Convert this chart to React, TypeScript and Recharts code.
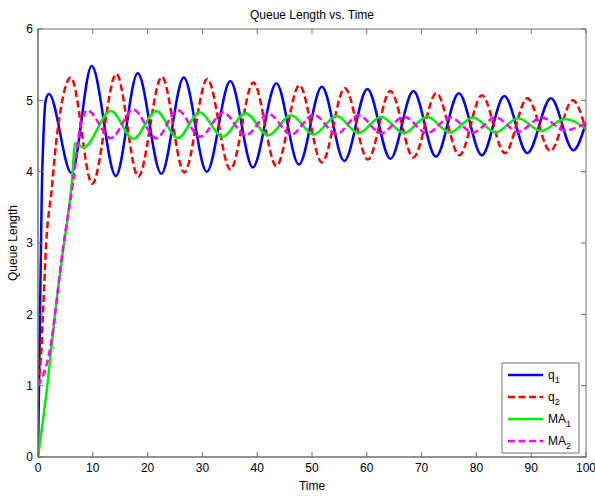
import React from 'react';
import { LineChart, Line, XAxis, YAxis } from 'recharts';

const FONT = '"Liberation Sans", Arial, Helvetica, sans-serif';
const AXIS_COLOR = '#6e6e6e';

// q1 (blue, solid)
const q1Time = [0, 0.3, 0.55, 0.7, 1.0, 1.4, 2.0, 6.1, 9.8, 14.2, 18.2, 22.5, 26.6, 30.8, 35.1, 39.2, 43.5, 47.6, 51.8, 55.9, 60.1, 64.3, 68.5, 72.6, 76.8, 81.0, 85.1, 89.3, 93.6, 97.7, 100];
const q1Value = [0, 1.6, 3.0, 3.75, 4.5, 5.0, 5.09, 3.98, 5.48, 3.94, 5.38, 3.97, 5.32, 4.0, 5.27, 4.06, 5.24, 4.1, 5.19, 4.15, 5.16, 4.18, 5.13, 4.21, 5.1, 4.23, 5.06, 4.26, 5.03, 4.3, 4.69];

// q2 (red, dashed)
const q2Time = [0, 0.6, 0.9, 1.5, 2.5, 3.3, 4.2, 6.0, 9.9, 14.3, 18.3, 22.6, 26.7, 30.9, 35.1, 39.3, 43.5, 47.7, 51.8, 56.0, 60.2, 64.3, 68.5, 72.7, 76.9, 81.0, 85.2, 89.3, 93.5, 97.6, 100];
const q2Value = [1.0, 1.5, 2.0, 3.0, 3.75, 4.4, 4.9, 5.32, 3.83, 5.37, 3.93, 5.33, 3.99, 5.3, 4.03, 5.25, 4.08, 5.21, 4.13, 5.17, 4.17, 5.13, 4.2, 5.1, 4.23, 5.07, 4.26, 5.03, 4.29, 5.0, 4.58];

// MA1 (green, solid)
const ma1Time = [0, 1.7, 3.1, 4.5, 6.15, 6.8, 8.3, 13.3, 17.4, 21.6, 25.5, 29.5, 33.7, 37.9, 42.0, 46.2, 50.3, 54.5, 58.5, 62.6, 66.8, 71.0, 75.2, 79.4, 83.5, 87.6, 91.8, 96.1, 100];
const ma1Value = [0, 1.0, 2.0, 2.85, 3.83, 4.4, 4.34, 4.85, 4.46, 4.85, 4.47, 4.83, 4.49, 4.82, 4.51, 4.79, 4.52, 4.78, 4.54, 4.77, 4.54, 4.77, 4.55, 4.76, 4.55, 4.75, 4.57, 4.74, 4.6];

// MA2 (magenta, dashed)
const ma2Time = [0, 2.2, 4.6, 6.45, 7.7, 9.0, 13.3, 17.4, 21.6, 25.5, 29.6, 33.8, 37.9, 42.1, 46.2, 50.3, 54.5, 58.5, 62.6, 66.8, 71.0, 75.2, 79.4, 83.5, 87.6, 91.9, 96.1, 100];
const ma2Value = [1.0, 1.51, 2.95, 3.88, 4.62, 4.86, 4.47, 4.87, 4.47, 4.86, 4.49, 4.83, 4.51, 4.81, 4.52, 4.8, 4.53, 4.79, 4.54, 4.77, 4.54, 4.76, 4.55, 4.76, 4.56, 4.76, 4.58, 4.68];

const xTicks = [0, 10, 20, 30, 40, 50, 60, 70, 80, 90, 100];
const yTicks = [0, 1, 2, 3, 4, 5, 6];
const X_MIN = 0;
const X_MAX = 100;
const Y_MIN = 0;
const Y_MAX = 6;

const titleText = 'Queue Length vs. Time';
const xLabelText = 'Time';
const yLabelText = 'Queue Length';

const zip = (t: number[], v: number[]) => t.map((x, i) => ({ t: x, v: v[i] }));

const series = [
  { key: 'q1', base: 'q', sub: '1', color: '#0000ff', dash: undefined as string | undefined, data: zip(q1Time, q1Value) },
  { key: 'q2', base: 'q', sub: '2', color: '#ff0000', dash: '7 3.5', data: zip(q2Time, q2Value) },
  { key: 'ma1', base: 'MA', sub: '1', color: '#00ee00', dash: undefined as string | undefined, data: zip(ma1Time, ma1Value) },
  { key: 'ma2', base: 'MA', sub: '2', color: '#ff00ff', dash: '7 3.5', data: zip(ma2Time, ma2Value) },
];

const W = 595;
const H = 497;
// plot rectangle, fixed by the chart margins and axis sizes below
const PLOT = { left: 38, top: 29, right: 586, bottom: 457 };
const M = { top: PLOT.top, right: W - PLOT.right, bottom: 0, left: 0 };
const X_AXIS_H = H - PLOT.bottom;
const Y_AXIS_W = PLOT.left;

export default function App() {
  const tickStyle = { fill: '#000', fontSize: 12, fontFamily: FONT };
  const lineStyle = { stroke: AXIS_COLOR, strokeWidth: 1 };
  const px = (t: number) => PLOT.left + ((t - X_MIN) / (X_MAX - X_MIN)) * (PLOT.right - PLOT.left);
  const py = (v: number) => PLOT.bottom - ((v - Y_MIN) / (Y_MAX - Y_MIN)) * (PLOT.bottom - PLOT.top);
  return (
    <div style={{ position: 'absolute', left: 0, top: 0, width: W, height: H, background: '#fff' }}>
      <LineChart width={W} height={H} margin={M}>
        <XAxis
          type="number"
          dataKey="t"
          domain={[X_MIN, X_MAX]}
          ticks={xTicks}
          allowDataOverflow
          height={X_AXIS_H}
          tickSize={-5}
          tickMargin={11}
          tick={tickStyle}
          axisLine={lineStyle}
          tickLine={lineStyle}
        />
        <YAxis
          type="number"
          domain={[Y_MIN, Y_MAX]}
          ticks={yTicks}
          allowDataOverflow
          width={Y_AXIS_W}
          tickSize={-5}
          tickMargin={10}
          tick={tickStyle}
          axisLine={lineStyle}
          tickLine={lineStyle}
        />
        {series.map((s) => (
          <Line
            key={s.key}
            data={s.data}
            dataKey="v"
            type="monotone"
            stroke={s.color}
            strokeWidth={2.5}
            strokeDasharray={s.dash}
            dot={false}
            activeDot={false}
            isAnimationActive={false}
          />
        ))}
      </LineChart>
      <svg
        width={W}
        height={H}
        style={{ position: 'absolute', left: 0, top: 0, pointerEvents: 'none' }}
        fontFamily={FONT}
      >
        {/* the full axes box (MATLAB style), plus inward ticks on the top and right edges */}
        <rect
          x={PLOT.left}
          y={PLOT.top}
          width={PLOT.right - PLOT.left}
          height={PLOT.bottom - PLOT.top}
          fill="none"
          stroke={AXIS_COLOR}
          strokeWidth={1}
        />
        {xTicks.map((t) => (
          <line key={'tx' + t} x1={px(t)} x2={px(t)} y1={PLOT.top} y2={PLOT.top + 5} stroke={AXIS_COLOR} strokeWidth={1} />
        ))}
        {yTicks.map((v) => (
          <line key={'ty' + v} x1={PLOT.right} x2={PLOT.right - 5} y1={py(v)} y2={py(v)} stroke={AXIS_COLOR} strokeWidth={1} />
        ))}
        <text x={312} y={19} fontSize={12} textAnchor="middle" fill="#000">{titleText}</text>
        <text x={312} y={490} fontSize={12} textAnchor="middle" fill="#000">{xLabelText}</text>
        <text x={17} y={243} fontSize={12} textAnchor="middle" fill="#000" transform="rotate(-90 17 243)">{yLabelText}</text>
        <rect x={502} y={363} width={77} height={90} fill="#fff" stroke={AXIS_COLOR} strokeWidth={1} />
        {series.map((s, i) => {
          const y = [375, 397, 419, 441][i];
          return (
            <g key={s.key}>
              <line x1={508} x2={543} y1={y} y2={y} stroke={s.color} strokeWidth={2.5} strokeDasharray={s.dash} />
              <text x={548} y={y + 4} fontSize={12} fill="#000">
                {s.base}
                <tspan fontSize={9} dy={4}>{s.sub}</tspan>
              </text>
            </g>
          );
        })}
      </svg>
    </div>
  );
}
